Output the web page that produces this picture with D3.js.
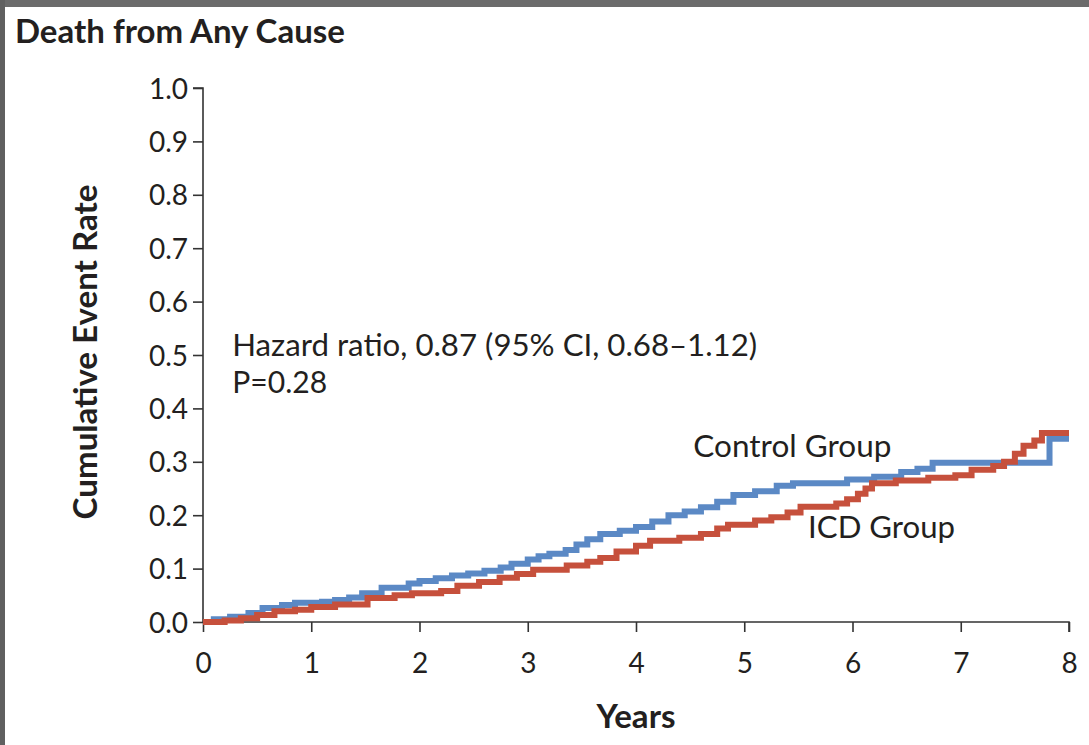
<!DOCTYPE html>
<html>
<head>
<meta charset="utf-8">
<script src="https://cdn.jsdelivr.net/npm/d3@7"></script>
<style>
  html, body { margin: 0; padding: 0; background: #fff; }
  svg { display: block; }
  text { font-family: Lato, "Open Sans", "DejaVu Sans", sans-serif; fill: #231f20; }
</style>
</head>
<body>
<script>
// ---- data ----
const titleText = "Death from Any Cause";
const yLabel = "Cumulative Event Rate";
const xLabel = "Years";
const xTicks = [0, 1, 2, 3, 4, 5, 6, 7, 8];
const yTicks = [0.0, 0.1, 0.2, 0.3, 0.4, 0.5, 0.6, 0.7, 0.8, 0.9, 1.0];
const seriesNames = ["Control Group", "ICD Group"];

const controlTimes = [0, 0.1, 0.25, 0.42, 0.55, 0.73, 0.85, 1.1, 1.22, 1.35, 1.47, 1.65, 1.9, 2.0, 2.15, 2.3, 2.45, 2.6, 2.75, 2.85, 3.0, 3.1, 3.2, 3.35, 3.45, 3.55, 3.67, 3.85, 4.0, 4.15, 4.3, 4.45, 4.6, 4.75, 4.9, 5.1, 5.3, 5.45, 5.95, 6.2, 6.45, 6.6, 6.74, 7.82, 8.0];
const controlRates = [0, 0.005, 0.01, 0.017, 0.026, 0.032, 0.036, 0.038, 0.041, 0.046, 0.054, 0.064, 0.072, 0.077, 0.082, 0.087, 0.091, 0.096, 0.102, 0.109, 0.117, 0.123, 0.128, 0.135, 0.145, 0.155, 0.165, 0.171, 0.178, 0.188, 0.2, 0.207, 0.215, 0.225, 0.238, 0.245, 0.255, 0.26, 0.267, 0.272, 0.281, 0.287, 0.298, 0.343, 0.343];

const icdTimes = [0, 0.2, 0.35, 0.5, 0.66, 0.85, 1.0, 1.22, 1.52, 1.77, 1.93, 2.2, 2.35, 2.55, 2.74, 2.9, 3.05, 3.36, 3.55, 3.67, 3.82, 4.0, 4.13, 4.4, 4.6, 4.75, 4.85, 5.1, 5.25, 5.4, 5.52, 5.85, 5.95, 6.05, 6.12, 6.18, 6.4, 6.7, 6.95, 7.1, 7.3, 7.4, 7.5, 7.58, 7.68, 7.75, 8.0];
const icdRates = [0, 0.003, 0.007, 0.013, 0.02, 0.023, 0.028, 0.033, 0.045, 0.05, 0.054, 0.058, 0.068, 0.075, 0.083, 0.09, 0.098, 0.106, 0.113, 0.12, 0.132, 0.143, 0.152, 0.158, 0.165, 0.175, 0.182, 0.19, 0.196, 0.205, 0.216, 0.222, 0.23, 0.24, 0.25, 0.26, 0.265, 0.27, 0.275, 0.285, 0.292, 0.3, 0.315, 0.33, 0.34, 0.354, 0.354];

const annotationLines = ["Hazard ratio, 0.87 (95% CI, 0.68\u20131.12)", "P=0.28"];

// ---- layout ----
const W = 1089, H = 745;
const svg = d3.select("body").append("svg").attr("width", W).attr("height", H);

svg.append("rect").attr("x", 0).attr("y", 0).attr("width", W).attr("height", H).attr("fill", "#fff");
svg.append("rect").attr("x", 0).attr("y", 0).attr("width", W).attr("height", 7).attr("fill", "#6b6b6b");
svg.append("rect").attr("x", 0).attr("y", 0).attr("width", 5).attr("height", H).attr("fill", "#606060");

const x = d3.scaleLinear().domain([0, 8]).range([203, 1069]);
const y = d3.scaleLinear().domain([0, 1]).range([622, 88]);

function fit(sel, w) {
  const n = sel.node();
  const len = n.getComputedTextLength();
  const fs = parseFloat(sel.attr("font-size"));
  if (len > 0) sel.attr("font-size", (fs * w / len).toFixed(2));
  return sel;
}

// title
fit(svg.append("text").attr("x", 15).attr("y", 43).attr("font-size", 28).attr("font-weight", 700).text(titleText), 330);

// axes
const yAxis = d3.axisLeft(y).tickValues(yTicks).tickFormat(d3.format(".1f")).tickSize(10).tickPadding(5);
const gy = svg.append("g").attr("transform", `translate(${x(0)},0)`).call(yAxis);
gy.select(".domain").attr("stroke", "#333").attr("stroke-width", 1.6).attr("d", `M-10,${y(1)}H0V${y(0)}`);
gy.selectAll(".tick line").attr("stroke", "#333").attr("stroke-width", 1.6);
gy.selectAll(".tick text").attr("font-size", 28).attr("font-family", "Lato, sans-serif").attr("fill", "#231f20").attr("dy", "0.36em");

const xAxis = d3.axisBottom(x).tickValues(xTicks).tickFormat(d3.format("d")).tickSize(10).tickPadding(5);
const gx = svg.append("g").attr("transform", `translate(0,${y(0)})`).call(xAxis);
gx.select(".domain").attr("stroke", "#333").attr("stroke-width", 1.6).attr("d", `M${x(0)},0H${x(8)}V10`);
gx.selectAll(".tick line").attr("stroke", "#333").attr("stroke-width", 1.6);
gx.selectAll(".tick text").attr("font-size", 28).attr("font-family", "Lato, sans-serif").attr("fill", "#231f20").attr("y", 51).attr("dy", 0);

// axis labels
fit(svg.append("text").attr("transform", "translate(97,352) rotate(-90)").attr("text-anchor", "middle")
  .attr("font-size", 26).attr("font-weight", 700).text(yLabel), 335);
fit(svg.append("text").attr("x", x(4)).attr("y", 728).attr("text-anchor", "middle")
  .attr("font-size", 26).attr("font-weight", 700).text(xLabel), 79);

// curves
const line = d3.line().curve(d3.curveStepAfter).x(d => x(d[0])).y(d => y(d[1]));
const controlData = controlTimes.map((t, i) => [t, controlRates[i]]);
const icdData = icdTimes.map((t, i) => [t, icdRates[i]]);

svg.append("path").datum(controlData).attr("d", line).attr("fill", "none")
  .attr("stroke", "#5b89c5").attr("stroke-width", 6);
svg.append("path").datum(icdData).attr("d", line).attr("fill", "none")
  .attr("stroke", "#c6503c").attr("stroke-width", 6);

// annotations
fit(svg.append("text").attr("x", x(0.27)).attr("y", 356).attr("font-size", 26).text(annotationLines[0]), 525);
fit(svg.append("text").attr("x", x(0.27)).attr("y", 393).attr("font-size", 26).text(annotationLines[1]), 95);

// series labels
fit(svg.append("text").attr("x", x(4.53)).attr("y", 457).attr("font-size", 26).text(seriesNames[0]), 198);
fit(svg.append("text").attr("x", x(5.59)).attr("y", 538).attr("font-size", 26).text(seriesNames[1]), 147);
</script>
</body>
</html>
